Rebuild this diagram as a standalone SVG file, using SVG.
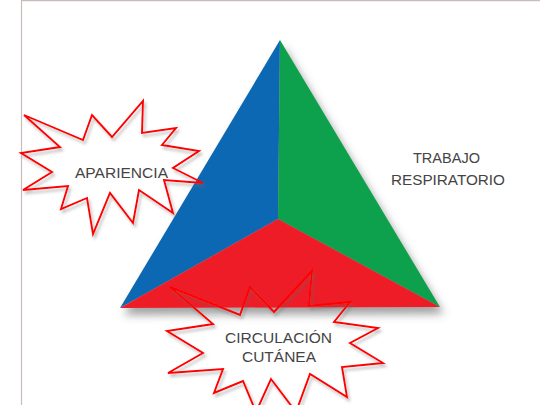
<svg xmlns="http://www.w3.org/2000/svg" width="540" height="405" viewBox="0 0 540 405">
  <defs>
    <filter id="triShadow" x="-20%" y="-20%" width="140%" height="140%">
      <feDropShadow dx="4" dy="7" stdDeviation="4" flood-color="#555" flood-opacity="0.55"/>
    </filter>
    <filter id="starShadow" x="-20%" y="-20%" width="140%" height="140%">
      <feDropShadow dx="2" dy="3" stdDeviation="1.5" flood-color="#666" flood-opacity="0.45"/>
    </filter>
  </defs>
  <style>
    .star { fill: none; stroke: #ff0000; stroke-width: 1.9; stroke-linejoin: miter; filter: url(#starShadow); }
    .lbl { font-family: "Liberation Sans", Arial, sans-serif; font-size: 14px; fill: #444444; text-anchor: middle; }
  </style>
  <rect x="0" y="0" width="540" height="405" fill="#ffffff"/>
  <line x1="21.5" y1="0" x2="21.5" y2="405" stroke="#cbbcbc" stroke-width="1.2"/>
  <line x1="21" y1="0.6" x2="540" y2="0.6" stroke="#cbbcbc" stroke-width="1.2"/>

  <g id="triangle">
    <g filter="url(#triShadow)">
      <polygon id="sector-apariencia" points="280,40 120,308 278,219" fill="#1068b4"/>
      <polygon id="sector-trabajo" points="280,40 278,219 440,307" fill="#0fa04e"/>
      <polygon id="sector-circulacion" points="120,308 278,219 440,307" fill="#ee1c26"/>
    </g>
  </g>

  <g id="apariencia">
    <polygon class="star" points="24,115 83,140 92,115 112,137 143,101 142,133 176,128 162,145 199,151 173,168 203,183 164,180 173,213 139,190 133,223 110,193 93,234 87,198 61,209 68,186 23,190 52,172 21,153 60,147"/>
    <text class="lbl" x="121.5" y="178" textLength="93" lengthAdjust="spacingAndGlyphs">APARIENCIA</text>
  </g>

  <g id="trabajo-respiratorio">
    <text class="lbl" x="446.5" y="163" textLength="67" lengthAdjust="spacingAndGlyphs">TRABAJO</text>
    <text class="lbl" x="448" y="185" textLength="114" lengthAdjust="spacingAndGlyphs">RESPIRATORIO</text>
  </g>

  <g id="circulacion-cutanea">
    <polygon class="star" points="170,287 240,315 250,287 274,312 312,271 309,306 350,302 334,322 378,328 350,343 383,363 342,367 347,397 310,374 296,412 271,379 256,412 243,381 214,393 223,369 168,373 203,353 167,331 213,324"/>
    <text class="lbl" x="278.5" y="343" textLength="107" lengthAdjust="spacingAndGlyphs">CIRCULACIÓN</text>
    <text class="lbl" x="279" y="362" textLength="74" lengthAdjust="spacingAndGlyphs">CUTÁNEA</text>
  </g>

  <g id="connectors"/>
</svg>
